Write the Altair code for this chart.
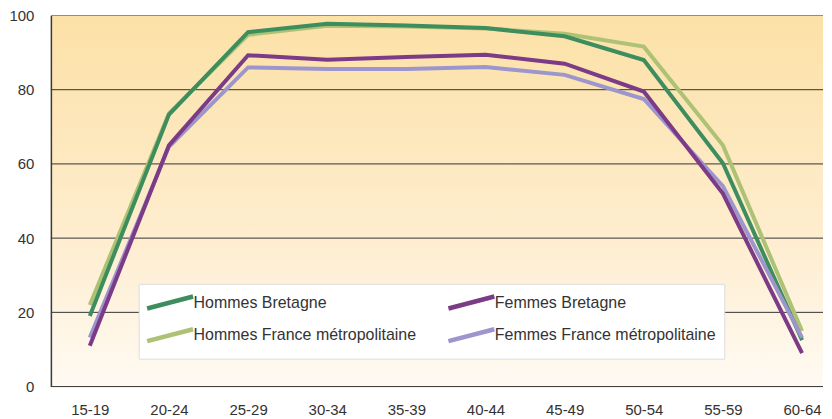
import altair as alt
import pandas as pd

# ---- data ----
ages = ["15-19", "20-24", "25-29", "30-34", "35-39", "40-44", "45-49", "50-54", "55-59", "60-64"]
series_names = ["Hommes Bretagne", "Hommes France métropolitaine",
                "Femmes Bretagne", "Femmes France métropolitaine"]
hommes_bretagne = [19.0, 73.3, 95.5, 97.8, 97.3, 96.6, 94.4, 88.0, 60.2, 12.5]
hommes_france = [22.0, 73.6, 94.8, 97.2, 97.0, 96.5, 95.1, 91.6, 65.0, 15.0]
femmes_bretagne = [11.0, 65.0, 89.3, 88.1, 88.8, 89.4, 87.0, 79.5, 52.0, 9.0]
femmes_france = [13.2, 64.6, 86.0, 85.6, 85.6, 86.1, 84.0, 77.5, 54.0, 13.2]
grid_values = [0, 20, 40, 60, 80, 100]
tick_values = [0, 20, 40, 60, 80, 100]

colors = ["#3E8D5F", "#ADC275", "#7C3B86", "#9C95CE"]
draw_order = ["Hommes France métropolitaine", "Hommes Bretagne",
              "Femmes France métropolitaine", "Femmes Bretagne"]

rows = []
for name, vals in zip(series_names, [hommes_bretagne, hommes_france, femmes_bretagne, femmes_france]):
    for a, v in zip(ages, vals):
        rows.append({"age": a, "serie": name, "taux": v})
df = pd.DataFrame(rows)

FONT = "Liberation Sans"

y_scale = alt.Scale(domain=[0, 100], nice=False, zero=True)
y_axis = alt.Axis(values=tick_values, title=None, grid=False, ticks=False,
                  domainColor="#3a3a3a", domainWidth=1.5, labelFont=FONT,
                  labelFontSize=15, labelColor="#333333", labelPadding=17, zindex=1)
x_scale = alt.Scale(type="point", domain=ages, range=[39, 753], padding=0)
x_axis = alt.Axis(title=None, ticks=False, domain=False, labelAngle=0, grid=False,
                  labelFont=FONT, labelFontSize=15, labelColor="#333333",
                  labelPadding=16, zindex=1)

Y = alt.Y("taux:Q", scale=y_scale, axis=y_axis)

gradient = alt.LinearGradient(
    gradient="linear", x1=0, x2=0, y1=0, y2=1,
    stops=[alt.GradientStop(offset=0, color="#FCE1A6"),
           alt.GradientStop(offset=0.6, color="#FEEDCF"),
           alt.GradientStop(offset=1, color="#FFFAF3")])

bg = alt.Chart(pd.DataFrame({"taux": [100], "taux_lo": [0]})).mark_rect(
    fill=gradient, stroke=None).encode(y=Y, y2="taux_lo:Q")

rules = alt.Chart(pd.DataFrame({"taux": grid_values})).mark_rule(strokeWidth=1).encode(
    y=Y,
    color=alt.condition(alt.datum.taux == 100, alt.value("#8a8a8a"), alt.value("#333333")),
)

legend = alt.Legend(
    title=None, orient="none", legendX=88, legendY=269, columns=2,
    columnPadding=22, rowPadding=2, padding=8,
    symbolType="M-2.875,0.75L2.875,-0.75", symbolSize=256, symbolStrokeWidth=4.5,
    symbolOffset=13, labelOffset=13,
    labelFont=FONT, labelFontSize=16, labelColor="#333333", labelLimit=400,
    fillColor="white", strokeColor="#dddddd",
)

color = alt.Color("serie:N", scale=alt.Scale(domain=series_names, range=colors), legend=legend)

base = alt.Chart(df).mark_line(strokeWidth=4, strokeJoin="miter", strokeCap="butt").encode(
    x=alt.X("age:O", scale=x_scale, axis=x_axis, sort=ages),
    y=Y,
    color=color,
)
lines = [base.transform_filter(alt.datum.serie == s) for s in draw_order]

chart = alt.layer(bg, rules, *lines).properties(
    width=774, height=372,
    padding={"left": 0, "top": 0, "right": 0, "bottom": 0},
    background="white",
).configure_view(stroke=None)

chart.save("out.html", embed_options={"renderer": "svg", "actions": False})
